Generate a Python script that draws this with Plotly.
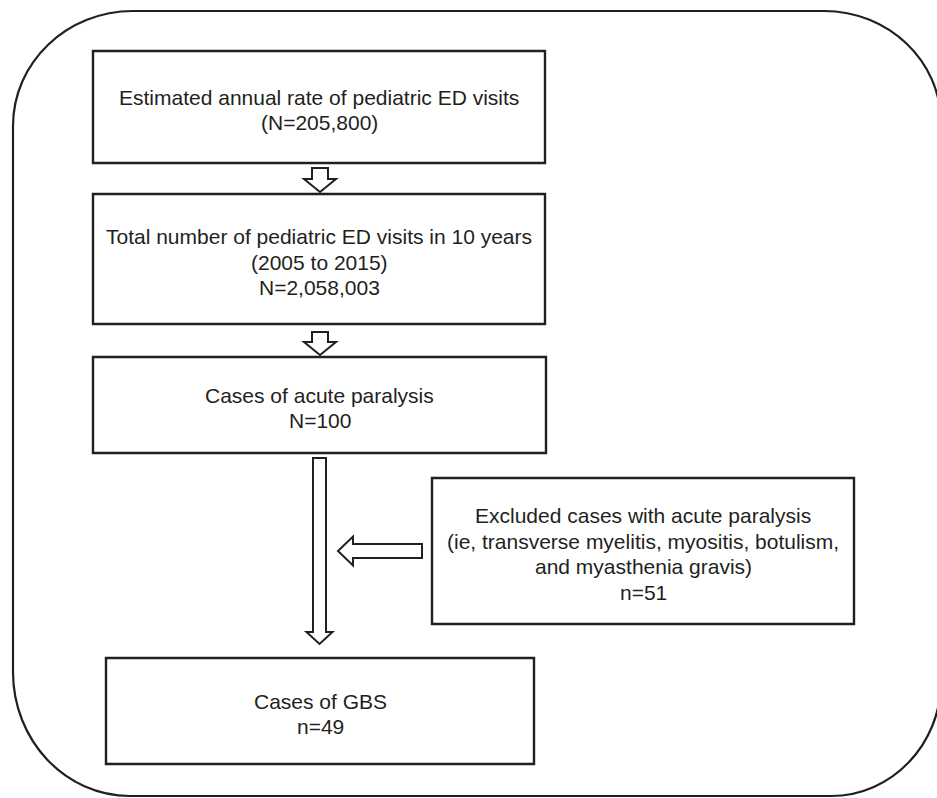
import plotly.graph_objects as go

# ---- data (text content of the flowchart) ----
box_titles = [
    ["Estimated annual rate of pediatric ED visits"],
    ["Total number of pediatric ED visits in 10 years", "(2005 to 2015)"],
    ["Cases of acute paralysis"],
    ["Excluded cases with acute paralysis",
     "(ie, transverse myelitis, myositis, botulism,",
     "and myasthenia gravis)"],
    ["Cases of GBS"],
]
box_counts = ["(N=205,800)", "N=2,058,003", "N=100", "n=51", "n=49"]

# ---- layout geometry (pixel space) ----
W, H = 937, 798
INK = "#231f20"
FONT = "Arial, Liberation Sans, sans-serif"
LINE_GAP = 25.5

boxes = [  # x0, y0, x1, y1
    (93, 51, 545, 163),
    (93, 194, 545, 324),
    (93, 357, 546, 453),
    (432, 478, 854, 624),
    (106, 658, 534, 764),
]

fig = go.Figure()
shapes = []

# outer rounded frame (right side runs off the canvas)
Lx, Tx, Rx, Bx = 13, 11, 941, 796
k = 0.5523
tl = (120, 115); tr = (117, 112); br = (110, 115); bl = (117, 124)
p = []
p.append(f"M {Lx+tl[0]},{Tx}")
p.append(f"L {Rx-tr[0]},{Tx}")
p.append(f"C {Rx-tr[0]+k*tr[0]},{Tx} {Rx},{Tx+tr[1]-k*tr[1]} {Rx},{Tx+tr[1]}")
p.append(f"L {Rx},{Bx-br[1]}")
p.append(f"C {Rx},{Bx-br[1]+k*br[1]} {Rx-br[0]+k*br[0]},{Bx} {Rx-br[0]},{Bx}")
p.append(f"L {Lx+bl[0]},{Bx}")
p.append(f"C {Lx+bl[0]-k*bl[0]},{Bx} {Lx},{Bx-bl[1]+k*bl[1]} {Lx},{Bx-bl[1]}")
p.append(f"L {Lx},{Tx+tl[1]}")
p.append(f"C {Lx},{Tx+tl[1]-k*tl[1]} {Lx+tl[0]-k*tl[0]},{Tx} {Lx+tl[0]},{Tx}")
p.append("Z")
shapes.append(dict(type="path", path=" ".join(p), xref="x", yref="y",
                   line=dict(color=INK, width=2.2), fillcolor="rgba(0,0,0,0)", layer="below"))

# boxes
for (x0, y0, x1, y1) in boxes:
    shapes.append(dict(type="rect", x0=x0, y0=y0, x1=x1, y1=y1, xref="x", yref="y",
                       line=dict(color=INK, width=2.4), fillcolor="white"))


def down_arrow(cx, top, head_y, tip, shaft_w, head_w):
    hs, hh = shaft_w / 2, head_w / 2
    return (f"M {cx-hs},{top} L {cx+hs},{top} L {cx+hs},{head_y} L {cx+hh},{head_y} "
            f"L {cx},{tip} L {cx-hh},{head_y} L {cx-hs},{head_y} Z")


def left_arrow(cy, right, head_x, tip, shaft_h, head_h):
    hs, hh = shaft_h / 2, head_h / 2
    return (f"M {right},{cy-hs} L {right},{cy+hs} L {head_x},{cy+hs} L {head_x},{cy+hh} "
            f"L {tip},{cy} L {head_x},{cy-hh} L {head_x},{cy-hs} Z")


arrows = [
    down_arrow(320, 168, 179, 192, 16, 32),
    down_arrow(320, 332, 342, 355, 16, 32),
    down_arrow(319.5, 458, 632, 644, 13, 26),
    left_arrow(551, 422, 353, 338, 14, 29),
]
for a in arrows:
    shapes.append(dict(type="path", path=a, xref="x", yref="y",
                       line=dict(color=INK, width=2), fillcolor="white"))

# text, one annotation per line
annotations = []
for (x0, y0, x1, y1), t, c in zip(boxes, box_titles, box_counts):
    lines = list(t) + [c]
    n = len(lines)
    cy = (y0 + y1) / 2 + 3
    for i, ln in enumerate(lines):
        annotations.append(dict(x=(x0 + x1) / 2, y=cy + (i - (n - 1) / 2) * LINE_GAP,
                                xref="x", yref="y", text=ln, showarrow=False,
                                align="center", yanchor="middle",
                                font=dict(family=FONT, size=21, color=INK)))

fig.update_layout(
    width=W, height=H, margin=dict(l=0, r=0, t=0, b=0),
    paper_bgcolor="white", plot_bgcolor="white",
    xaxis=dict(range=[0, W], visible=False, fixedrange=True),
    yaxis=dict(range=[H, 0], visible=False, fixedrange=True),
    shapes=shapes, annotations=annotations, showlegend=False,
)
fig.write_html("out.html", config={"displayModeBar": False},
               post_script="document.body.style.margin='0';document.body.style.overflow='hidden';")
